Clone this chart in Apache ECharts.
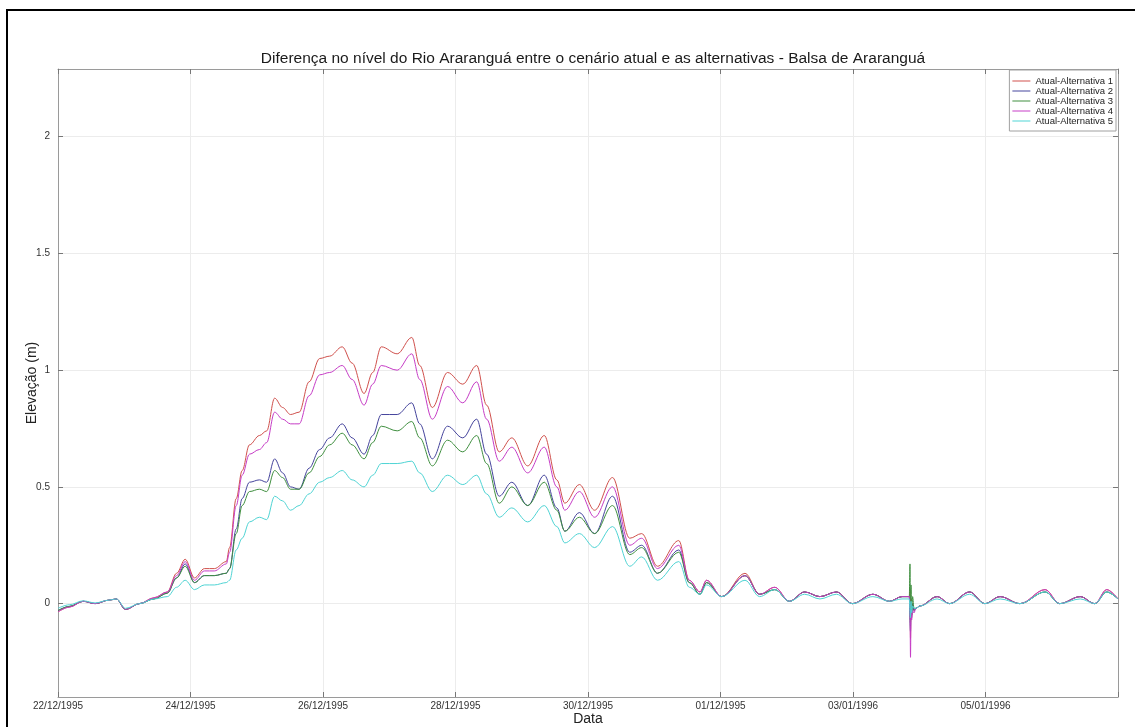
<!DOCTYPE html>
<html>
<head>
<meta charset="utf-8">
<script src="https://cdn.jsdelivr.net/npm/echarts@6/dist/echarts.min.js"></script>
<style>
  html, body { margin: 0; padding: 0; background: #fff; }
  #chart { width: 1135px; height: 727px; }
</style>
</head>
<body>
<div id="chart"></div>
<script>
// Tempo em dias contados a partir de 22/12/1995 00:00
const dias = [
  0.00, 0.17, 0.38, 0.56, 0.77, 0.88, 1.02, 1.23, 1.45, 1.65,
  1.79, 1.92, 2.06, 2.21, 2.36, 2.54, 2.59, 2.69, 2.78, 2.89,
  3.04, 3.15, 3.27, 3.39, 3.51, 3.64, 3.79, 3.95, 4.10, 4.29,
  4.44, 4.62, 4.75, 4.88, 5.12, 5.34, 5.46, 5.65, 5.88, 6.11,
  6.32, 6.47, 6.66, 6.85, 7.09, 7.34, 7.53, 7.65, 7.87, 8.10,
  8.37, 8.63, 8.81, 9.05, 9.37, 9.53, 9.69, 9.79, 10.02, 10.37,
  10.59, 10.82, 11.04, 11.27, 11.50, 11.75, 11.99, 12.30, 12.55, 12.74,
  12.83, 12.85, 12.86, 12.868, 12.876, 12.885, 12.90, 12.92, 12.95, 13.01,
  13.27, 13.46, 13.76, 13.99, 14.22, 14.52, 14.90, 15.12, 15.43, 15.65,
  15.83, 16.00
];

// Diferença de nível (m): cenário atual menos cada alternativa
const alt1 = [
  -0.035, -0.015, 0.010, 0.000, 0.015, 0.020, -0.025, 0.000, 0.025, 0.050,
  0.13, 0.19, 0.11, 0.15, 0.15, 0.18, 0.24, 0.45, 0.57, 0.68,
  0.72, 0.74, 0.88, 0.84, 0.81, 0.82, 0.95, 1.05, 1.06, 1.10,
  1.03, 0.90, 0.99, 1.10, 1.07, 1.14, 1.02, 0.84, 0.99, 0.94,
  1.02, 0.85, 0.65, 0.71, 0.59, 0.72, 0.53, 0.43, 0.51, 0.40,
  0.54, 0.28, 0.30, 0.16, 0.27, 0.10, 0.05, 0.10, 0.03, 0.13,
  0.04, 0.07, 0.01, 0.05, 0.03, 0.05, 0.00, 0.04, 0.01, 0.03,
  0.03, 0.03, 0.06, -0.15, 0.02, -0.06, -0.01, -0.03, -0.02, -0.01,
  0.03, 0.00, 0.05, 0.00, 0.03, 0.00, 0.06, 0.00, 0.03, 0.00,
  0.06, 0.02
];
const alt2 = [
  -0.030, -0.012, 0.010, 0.000, 0.015, 0.020, -0.025, 0.000, 0.020, 0.045,
  0.11, 0.17, 0.09, 0.12, 0.12, 0.13, 0.15, 0.32, 0.45, 0.52,
  0.53, 0.52, 0.62, 0.56, 0.50, 0.49, 0.58, 0.66, 0.71, 0.77,
  0.71, 0.64, 0.72, 0.81, 0.81, 0.86, 0.77, 0.62, 0.76, 0.71,
  0.79, 0.64, 0.46, 0.52, 0.42, 0.55, 0.41, 0.31, 0.39, 0.30,
  0.46, 0.22, 0.25, 0.13, 0.23, 0.09, 0.04, 0.09, 0.03, 0.12,
  0.04, 0.06, 0.01, 0.05, 0.03, 0.05, 0.00, 0.04, 0.01, 0.03,
  0.03, 0.03, 0.03, -0.12, 0.01, -0.05, 0.00, -0.03, -0.02, -0.01,
  0.03, 0.00, 0.05, 0.00, 0.03, 0.00, 0.05, 0.00, 0.03, 0.00,
  0.05, 0.02
];
const alt3 = [
  -0.030, -0.012, 0.010, 0.000, 0.015, 0.020, -0.025, 0.000, 0.020, 0.045,
  0.11, 0.16, 0.09, 0.12, 0.12, 0.13, 0.15, 0.30, 0.42, 0.48,
  0.49, 0.48, 0.57, 0.54, 0.49, 0.49, 0.56, 0.63, 0.68, 0.73,
  0.68, 0.62, 0.69, 0.76, 0.74, 0.78, 0.71, 0.59, 0.70, 0.65,
  0.72, 0.60, 0.43, 0.50, 0.42, 0.52, 0.40, 0.31, 0.37, 0.30,
  0.42, 0.21, 0.24, 0.13, 0.22, 0.09, 0.04, 0.09, 0.03, 0.12,
  0.04, 0.06, 0.01, 0.05, 0.03, 0.05, 0.00, 0.04, 0.01, 0.03,
  0.03, 0.03, 0.17, -0.08, 0.08, -0.05, 0.03, -0.02, -0.02, -0.01,
  0.03, 0.00, 0.05, 0.00, 0.03, 0.00, 0.05, 0.00, 0.03, 0.00,
  0.05, 0.02
];
const alt4 = [
  -0.035, -0.015, 0.010, 0.000, 0.015, 0.020, -0.025, 0.000, 0.025, 0.050,
  0.12, 0.18, 0.10, 0.14, 0.14, 0.17, 0.22, 0.42, 0.55, 0.64,
  0.66, 0.69, 0.82, 0.79, 0.77, 0.77, 0.89, 0.98, 0.99, 1.02,
  0.96, 0.85, 0.94, 1.02, 1.00, 1.07, 0.96, 0.79, 0.93, 0.86,
  0.95, 0.79, 0.61, 0.67, 0.56, 0.67, 0.50, 0.40, 0.48, 0.37,
  0.50, 0.25, 0.28, 0.15, 0.25, 0.10, 0.05, 0.10, 0.03, 0.12,
  0.04, 0.07, 0.01, 0.05, 0.03, 0.05, 0.00, 0.04, 0.01, 0.03,
  0.03, 0.03, 0.00, -0.23, -0.03, -0.07, -0.03, -0.04, -0.02, -0.01,
  0.03, 0.00, 0.05, 0.00, 0.03, 0.00, 0.06, 0.00, 0.03, 0.00,
  0.06, 0.02
];
const alt5 = [
  -0.020, -0.005, 0.012, 0.003, 0.015, 0.020, -0.020, 0.000, 0.020, 0.030,
  0.07, 0.10, 0.06, 0.08, 0.08, 0.09, 0.10, 0.23, 0.28, 0.35,
  0.37, 0.36, 0.46, 0.44, 0.40, 0.42, 0.47, 0.52, 0.54, 0.57,
  0.53, 0.50, 0.55, 0.60, 0.60, 0.61, 0.56, 0.48, 0.55, 0.51,
  0.55, 0.47, 0.37, 0.41, 0.35, 0.42, 0.33, 0.26, 0.30, 0.24,
  0.33, 0.16, 0.20, 0.10, 0.18, 0.07, 0.04, 0.08, 0.03, 0.10,
  0.03, 0.06, 0.01, 0.04, 0.02, 0.04, 0.00, 0.03, 0.01, 0.02,
  0.02, 0.02, 0.02, -0.06, 0.01, -0.04, -0.01, -0.02, -0.02, -0.01,
  0.02, 0.00, 0.04, 0.00, 0.02, 0.00, 0.05, 0.00, 0.02, 0.00,
  0.05, 0.02
];

const nomes = [
  'Atual-Alternativa 1', 'Atual-Alternativa 2', 'Atual-Alternativa 3',
  'Atual-Alternativa 4', 'Atual-Alternativa 5'
];
const cores = ['#d0504c', '#45449c', '#3f8f3f', '#c63cc6', '#4fd4d4'];

// Rótulos do eixo de datas, um a cada 2 dias
const rotulosData = [
  '22/12/1995', '24/12/1995', '26/12/1995', '28/12/1995',
  '30/12/1995', '01/12/1995', '03/01/1996', '05/01/1996', ''
];
const marcasElev = [0, 0.5, 1, 1.5, 2];

const valores = [alt1, alt2, alt3, alt4, alt5];
const fonte = '"Liberation Sans", Arial, Helvetica, sans-serif';

const chart = echarts.init(document.getElementById('chart'), null, { renderer: 'canvas' });

const series = valores.map((v, i) => ({
  name: nomes[i],
  type: 'line',
  xAxisIndex: 0,
  yAxisIndex: 0,
  data: dias.map((d, k) => [d, v[k]]),
  showSymbol: false,
  smooth: 0.35,
  smoothMonotone: 'x',
  lineStyle: { width: 1, color: cores[i] },
  itemStyle: { color: cores[i] },
  emphasis: { disabled: true },
  animation: false
}));

const eixoX = (pos, principal) => ({
  type: 'value',
  position: pos,
  min: 0,
  max: 16,
  interval: 2,
  axisLine: { show: true, onZero: false, lineStyle: { color: '#9a9a9a', width: 1 } },
  axisTick: { show: true, inside: true, length: 5, lineStyle: { color: '#777' } },
  axisLabel: principal ? {
    show: true,
    margin: 4,
    fontSize: 10,
    color: '#333',
    fontFamily: fonte,
    formatter: (v) => rotulosData[Math.round(v / 2)] || ''
  } : { show: false },
  splitLine: principal ? { show: true, lineStyle: { color: '#ececec', width: 1 } } : { show: false },
  name: principal ? 'Data' : '',
  nameLocation: 'middle',
  nameGap: 15,
  nameMoveOverlap: false,
  nameTextStyle: { fontSize: 14, color: '#222', fontFamily: fonte }
});

const eixoY = (pos, principal) => ({
  type: 'value',
  position: pos,
  min: -0.4,
  max: 2.29,
  axisLine: { show: true, onZero: false, lineStyle: { color: '#9a9a9a', width: 1 } },
  axisTick: { show: true, inside: true, length: 5, customValues: marcasElev, lineStyle: { color: '#777' } },
  axisLabel: principal ? {
    show: true,
    customValues: marcasElev,
    margin: 8,
    fontSize: 10,
    color: '#333',
    fontFamily: fonte
  } : { show: false },
  splitLine: principal ? { show: true, lineStyle: { color: '#ececec', width: 1 } } : { show: false },
  name: principal ? 'Elevação (m)' : '',
  nameLocation: 'middle',
  nameGap: 19,
  nameMoveOverlap: false,
  nameRotate: 90,
  nameTextStyle: { fontSize: 14, color: '#222', fontFamily: fonte }
});

chart.setOption({
  backgroundColor: '#fff',
  animation: false,
  title: {
    text: 'Diferença no nível do Rio Araranguá entre o cenário atual e as alternativas - Balsa de Araranguá',
    left: 588,
    top: 46,
    textAlign: 'center',
    textStyle: { fontSize: 15.5, fontWeight: 'normal', color: '#1a1a1a', fontFamily: fonte }
  },
  legend: {
    data: nomes,
    orient: 'vertical',
    right: 19,
    top: 70,
    align: 'left',
    icon: 'rect',
    itemWidth: 18,
    itemHeight: 1,
    itemGap: 0,
    padding: [6, 3, 5, 3],
    backgroundColor: '#fff',
    borderColor: '#a0a0a0',
    borderWidth: 1,
    borderRadius: 0,
    textStyle: { fontSize: 9.5, lineHeight: 10, color: '#222', fontFamily: fonte, padding: [0, 0, 0, 0] },
    selectedMode: false
  },
  grid: {
    left: 58,
    right: 17,
    top: 69,
    bottom: 30,
    containLabel: false,
    outerBoundsMode: 'none',
    show: false
  },
  xAxis: [eixoX('bottom', true), eixoX('top', false)],
  yAxis: [eixoY('left', true), eixoY('right', false)],
  graphic: [{
    type: 'rect',
    silent: true,
    z: 100,
    shape: { x: 7, y: 10, width: 1200, height: 800 },
    style: { fill: 'none', stroke: '#000', lineWidth: 2 }
  }],
  series: series
});
</script>
</body>
</html>
